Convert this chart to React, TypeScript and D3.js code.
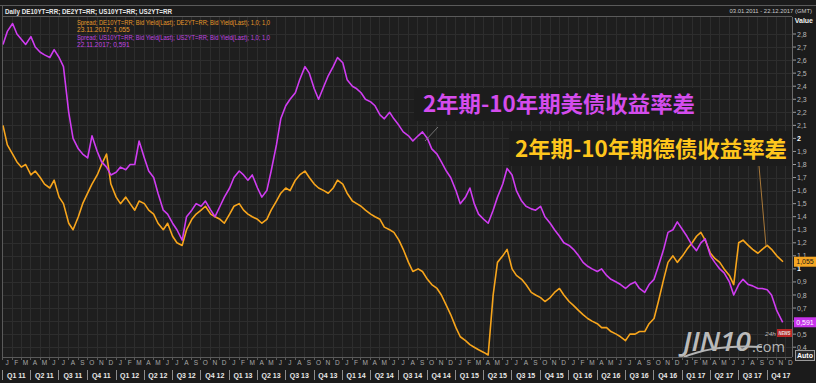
import React, { useEffect } from "react";
import * as d3 from "d3";

// Semi-monthly readings (first value ~3rd, second ~17th of each month), Jan 2011 .. Nov 2017
const usSpread = [
  // 2011
  2.72, 2.82, 2.88, 2.80, 2.76, 2.72, 2.78, 2.70, 2.66, 2.64, 2.62, 2.68,
  2.62, 2.55, 2.20, 2.00, 1.92, 1.88, 1.85, 2.02, 1.90, 1.82, 1.78, 1.72,
  // 2012
  1.74, 1.78, 1.76, 1.80, 1.80, 1.98, 1.85, 1.75, 1.70, 1.58, 1.45, 1.42,
  1.35, 1.30, 1.22, 1.40, 1.45, 1.50, 1.48, 1.52, 1.45, 1.40, 1.48, 1.55,
  // 2013
  1.62, 1.70, 1.75, 1.72, 1.68, 1.72, 1.62, 1.55, 1.60, 1.75, 1.95, 2.15,
  2.25, 2.30, 2.35, 2.45, 2.55, 2.50, 2.38, 2.30, 2.40, 2.48, 2.55, 2.62,
  // 2014
  2.58, 2.45, 2.40, 2.38, 2.35, 2.30, 2.28, 2.25, 2.18, 2.15, 2.20, 2.15,
  2.10, 2.05, 2.02, 1.98, 2.02, 2.05, 2.00, 1.92, 1.88, 1.82, 1.75, 1.70,
  // 2015
  1.60, 1.50, 1.55, 1.62, 1.50, 1.42, 1.38, 1.35, 1.45, 1.55, 1.65, 1.77,
  1.72, 1.60, 1.52, 1.48, 1.46, 1.45, 1.48, 1.40, 1.35, 1.30, 1.25, 1.20,
  // 2016
  1.18, 1.15, 1.10, 1.05, 1.02, 1.00, 0.98, 1.00, 0.95, 0.92, 0.90, 0.88,
  0.85, 0.88, 0.90, 0.85, 0.82, 0.88, 0.92, 1.02, 1.15, 1.28, 1.30, 1.36,
  // 2017
  1.30, 1.25, 1.18, 1.14, 1.20, 1.23, 1.10, 1.05, 1.00, 0.97, 0.90, 0.80,
  0.88, 0.92, 0.88, 0.87, 0.85, 0.85, 0.84, 0.80, 0.68, 0.591,
];

const deSpread = [
  // 2011
  2.10, 1.95, 1.88, 1.82, 1.78, 1.80, 1.72, 1.75, 1.70, 1.65, 1.62, 1.68,
  1.55, 1.50, 1.35, 1.30, 1.40, 1.50, 1.58, 1.65, 1.72, 1.80, 1.88, 1.65,
  // 2012
  1.55, 1.50, 1.55, 1.50, 1.45, 1.52, 1.50, 1.45, 1.42, 1.35, 1.30, 1.35,
  1.25, 1.20, 1.18, 1.30, 1.38, 1.42, 1.45, 1.48, 1.42, 1.40, 1.38, 1.35,
  // 2013
  1.42, 1.48, 1.50, 1.45, 1.42, 1.40, 1.38, 1.35, 1.38, 1.45, 1.52, 1.58,
  1.62, 1.60, 1.68, 1.72, 1.75, 1.70, 1.65, 1.62, 1.60, 1.58, 1.62, 1.68,
  // 2014
  1.65, 1.58, 1.52, 1.50, 1.48, 1.45, 1.42, 1.40, 1.38, 1.32, 1.30, 1.28,
  1.22, 1.15, 1.05, 0.98, 1.00, 0.98, 0.92, 0.88, 0.85, 0.80, 0.72, 0.65,
  // 2015
  0.55, 0.48, 0.45, 0.42, 0.40, 0.38, 0.36, 0.34, 0.80, 1.05, 1.10, 1.15,
  1.00, 0.95, 0.92, 0.88, 0.82, 0.80, 0.78, 0.75, 0.78, 0.82, 0.85, 0.80,
  // 2016
  0.75, 0.72, 0.68, 0.65, 0.62, 0.60, 0.58, 0.55, 0.55, 0.52, 0.50, 0.48,
  0.45, 0.50, 0.50, 0.52, 0.52, 0.58, 0.62, 0.75, 0.92, 1.05, 1.10, 1.05,
  // 2017
  1.10, 1.15, 1.20, 1.25, 1.28, 1.22, 1.12, 1.08, 1.05, 1.00, 0.95, 0.88,
  1.20, 1.22, 1.18, 1.15, 1.12, 1.15, 1.18, 1.15, 1.10, 1.055,
];

const yTicks = [0.4, 0.5, 0.6, 0.7, 0.8, 0.9, 1.0, 1.1, 1.2, 1.3, 1.4, 1.5, 1.6, 1.7, 1.8, 1.9, 2.0, 2.1, 2.2, 2.3, 2.4, 2.5, 2.6, 2.7, 2.8];
const monthLetters = ["J", "F", "M", "A", "M", "J", "J", "A", "S", "O", "N", "D"];
const headerText = "Daily DE10YT=RR; DE2YT=RR; US10YT=RR; US2YT=RR";
const rangeText = "03.01.2011 - 22.12.2017 (GMT)";
const legendLines = [
  { text: "Spread; DE10YT=RR; Bid Yield(Last); DE2YT=RR; Bid Yield(Last);  1,0; 1,0", series: "de" },
  { text: "23.11.2017; 1,055", series: "de" },
  { text: "Spread; US10YT=RR; Bid Yield(Last); US2YT=RR; Bid Yield(Last);  1,0; 1,0", series: "us" },
  { text: "22.11.2017; 0,591", series: "us" },
];
const usLabel = "2年期-10年期美债收益率差";
const deLabel = "2年期-10年期德债收益率差";
const usLast = 0.591;
const deLast = 1.055;

const US_COLOR = "#cf3cf0";
const DE_COLOR = "#f7a51c";
const FONT = "'Liberation Sans', 'DejaVu Sans', sans-serif";

function pointDate(i: number, n: number, lastDay: number) {
  if (i === n - 1) return new Date(2017, 10, lastDay);
  return new Date(2011, Math.floor(i / 2), i % 2 ? 17 : 3);
}

export default function App() {
  useEffect(() => {
    document.body.style.margin = "0";
    document.body.style.background = "#1b1b1b";
  }, []);

  const W = 816, H = 383;
  const plotL = 2.5, plotR = 792, plotT = 17, plotB = 357;
  const x = d3.scaleTime().domain([new Date(2011, 0, 3), new Date(2017, 11, 22)]).range([3, 792]);
  const y = d3.scaleLinear().domain([0.4, 2.8]).range([347.2, 34]);

  const months = d3.timeMonth.range(new Date(2011, 0, 1), new Date(2018, 0, 1));
  const quarters = d3.timeMonth.every(3)!.range(new Date(2011, 0, 1), new Date(2018, 0, 1));

  const usPts = usSpread.map((v, i) => [x(pointDate(i, usSpread.length, 22)), y(v)] as [number, number]);
  const dePts = deSpread.map((v, i) => [x(pointDate(i, deSpread.length, 23)), y(v)] as [number, number]);
  const line = d3.line<[number, number]>().x(d => d[0]).y(d => d[1]).curve(d3.curveLinear);

  const fmt = (v: number) => String(+v.toFixed(3)).replace(".", ",");
  const tagYs = [y(deLast), y(usLast)];

  return (
    <svg width={W} height={H} style={{ position: "absolute", left: 0, top: 0, display: "block" }} fontFamily={FONT}>
      <rect x={0} y={0} width={W} height={H} fill="#1b1b1b" />
      <defs>
        <clipPath id="plotclip">
          <rect x={plotL} y={plotT} width={plotR - plotL} height={plotB - plotT} />
        </clipPath>
      </defs>
      <rect x={plotL} y={plotT} width={plotR - plotL} height={plotB - plotT} fill="#1e1e1e" />
      <g stroke="#2d2d2d" strokeWidth={1}>
        {months.map((m, i) => (
          <line key={"vg" + i} x1={Math.round(x(m)) + 0.5} x2={Math.round(x(m)) + 0.5} y1={plotT} y2={plotB} />
        ))}
        {yTicks.map((t, i) => (
          <line key={"hg" + i} x1={plotL} x2={plotR} y1={Math.round(y(t)) + 0.5} y2={Math.round(y(t)) + 0.5} />
        ))}
      </g>
      {/* header */}
      <line x1={0} x2={W} y1={5.5} y2={5.5} stroke="#5a5a5a" />
      <line x1={plotL} x2={plotR} y1={plotT - 0.5} y2={plotT - 0.5} stroke="#5a5a5a" />
      <line x1={plotL} x2={plotL} y1={5} y2={plotB} stroke="#5a5a5a" />
      <text x={5} y={14} fontSize={7} fontWeight="bold" fill="#e8e8e8" textLength={167} lengthAdjust="spacingAndGlyphs">{headerText}</text>
      <text x={812} y={13} fontSize={5.9} fill="#c8c8c8" textAnchor="end">{rangeText}</text>
      <text x={813} y={23} fontSize={7} fontWeight="bold" fill="#f0f0f0" textAnchor="end">Value</text>

      {legendLines.map((l, i) => (
        <text key={"lg" + i} x={77} y={25 + i * 7.4} fontSize={6.6} fill={l.series === "de" ? "#e79a2a" : "#c046e0"}
          {...(l.text.length > 30 ? { textLength: 193, lengthAdjust: "spacingAndGlyphs" } : {})}>{l.text}</text>
      ))}

      <g clipPath="url(#plotclip)" fill="none" strokeWidth={1.6} strokeLinejoin="round">
        <path d={line(dePts) || ""} stroke={DE_COLOR} />
        <path d={line(usPts) || ""} stroke={US_COLOR} />
      </g>

      {/* annotations */}
      <rect x={414} y={88} width={286} height={33} fill="#1c1c1c" />
      <text x={423} y={112} fontFamily="'Noto Sans CJK SC', sans-serif" fontWeight="bold" fontSize={22} fill="#d44ced" textLength={272} lengthAdjust="spacingAndGlyphs">{usLabel}</text>
      <line x1={425} y1={141} x2={438} y2={127} stroke="#8a8a8a" strokeWidth={0.8} />
      <rect x={509} y={131} width={283} height={35} fill="#1c1c1c" />
      <text x={515} y={157} fontFamily="'Noto Sans CJK SC', sans-serif" fontWeight="bold" fontSize={22} fill="#ffc61c" textLength={272} lengthAdjust="spacingAndGlyphs">{deLabel}</text>
      <line x1={759} y1={166} x2={766} y2={246} stroke="#a9793a" strokeWidth={1} />

      {/* watermark */}
      <g opacity={0.85}>
        <text x={683} y={351} fontSize={27} fontFamily="'Open Sans', sans-serif" fontWeight="600" fontStyle="italic" fill="#d6d6d6" textLength={68} lengthAdjust="spacingAndGlyphs">JIN10</text>
        <text x={752} y={352} fontSize={14} fontFamily="'Open Sans', sans-serif" fill="#d0d0d0" textLength={33} lengthAdjust="spacingAndGlyphs">.com</text>
        <path d="M684,357 Q715,344 762,347" stroke="#cfcfcf" strokeWidth={2} fill="none" />
        <text x={765} y={335.5} fontSize={6} fontStyle="italic" fill="#d0d0d0" textLength={11} lengthAdjust="spacingAndGlyphs">24h</text>
        <rect x={777} y={329} width={15} height={8} fill="#d42828" />
        <text x={784.5} y={335.3} fontSize={6} fontStyle="italic" fontWeight="bold" fill="#ffffff" textAnchor="middle" textLength={12} lengthAdjust="spacingAndGlyphs">NEWS</text>
      </g>

      {/* right axis */}
      <line x1={plotR + 0.5} x2={plotR + 0.5} y1={plotT} y2={plotB} stroke="#6a6a6a" />
      {yTicks.map((t, i) => {
        const isInt = Math.abs(t - Math.round(t)) < 1e-9;
        const hidden = tagYs.some(ty => Math.abs(ty - y(t)) < 4);
        return (
          <g key={"yt" + i}>
            <line x1={plotR + 1} x2={plotR + 4} y1={y(t)} y2={y(t)} stroke="#9a9a9a" />
            {!hidden && (
              <text x={plotR + 5} y={y(t) + 2.5} fontSize={7} fill={isInt ? "#ffffff" : "#b8b8b8"} fontWeight={isInt ? "bold" : "normal"}>
                {fmt(t)}
              </text>
            )}
          </g>
        );
      })}
      <rect x={plotR + 2} y={y(deLast) - 5} width={22} height={10} fill="#f5a623" />
      <text x={plotR + 13} y={y(deLast) + 2.5} fontSize={7} fill="#1a1a1a" textAnchor="middle">{fmt(deLast)}</text>
      <rect x={plotR + 2} y={y(usLast) - 5} width={22} height={10} fill="#c832ec" />
      <text x={plotR + 13} y={y(usLast) + 2.5} fontSize={7} fill="#ffffff" textAnchor="middle">{fmt(usLast)}</text>
      <rect x={795.5} y={350.5} width={19} height={10} fill="#2a2a2a" stroke="#9a9a9a" />
      <text x={805} y={358} fontSize={7} fontWeight="bold" fill="#ffffff" textAnchor="middle">Auto</text>

      {/* bottom axis */}
      <line x1={plotL} x2={plotR} y1={plotB + 0.5} y2={plotB + 0.5} stroke="#5a5a5a" />
      {months.map((m, i) => {
        const xm = x(m);
        const xn = x(d3.timeMonth.offset(m, 1));
        return (
          <g key={"mx" + i}>
            <line x1={Math.round(xm) + 0.5} x2={Math.round(xm) + 0.5} y1={plotB} y2={plotB + 3} stroke="#5a5a5a" />
            <text x={(xm + xn) / 2} y={365} fontSize={6.5} fill="#a8a8a8" textAnchor="middle">{monthLetters[m.getMonth()]}</text>
          </g>
        );
      })}
      {quarters.map((q, i) => {
        const xq = x(q);
        const xn = x(d3.timeMonth.offset(q, 3));
        const label = `Q${Math.floor(q.getMonth() / 3) + 1} ${String(q.getFullYear()).slice(2)}`;
        return (
          <g key={"qx" + i}>
            <line x1={Math.round(xq) + 0.5} x2={Math.round(xq) + 0.5} y1={370} y2={380} stroke="#8a8a8a" />
            <text x={(xq + xn) / 2} y={378} fontSize={7} fontWeight="bold" fill="#e8e8e8" textAnchor="middle">{label}</text>
          </g>
        );
      })}
    </svg>
  );
}
